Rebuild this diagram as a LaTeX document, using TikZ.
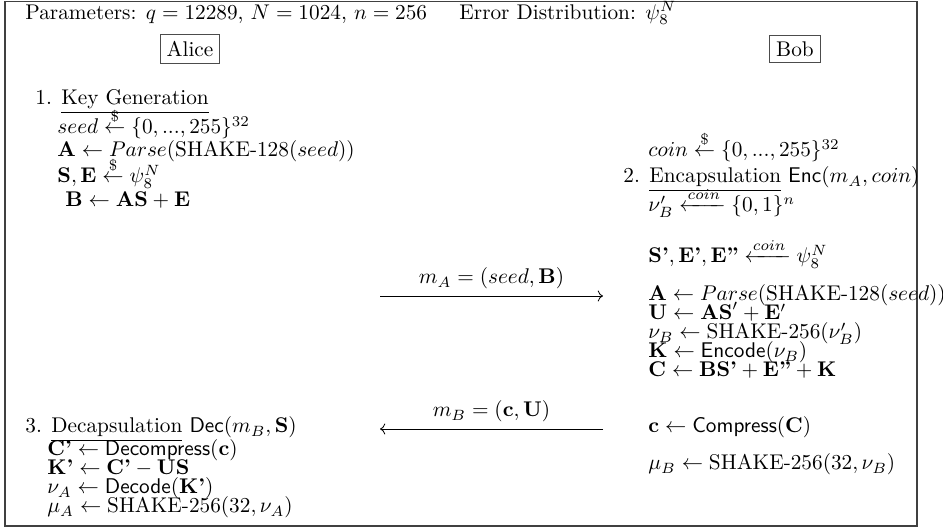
\documentclass[tikz,border=0pt]{standalone}
\usepackage{amsmath}
\usetikzlibrary{arrows.meta}
\begin{document}
\begin{tikzpicture}[x=0.47pt,y=-0.47pt,
  txt/.style={anchor=base west, inner sep=0pt},
  who/.style={draw=black!70, line width=0.5pt, inner sep=3pt},
  msg/.style={-{Computer Modern Rightarrow}, line width=0.4pt},
  lbl/.style={anchor=base, inner sep=0pt}]
\useasboundingbox (0,0) rectangle (943,529);
\draw[black!75, line width=0.6pt] (5,1.5) rectangle (917,526);
% header
\node[txt] (par) at (25,19.5) {Parameters: $q=12289$, $N=1024$, $n=256$};
\node[txt] (err) at (459,19.5) {Error Distribution: $\psi_8^N$};
\node[who] (alice) at (190,49) {Alice};
\node[who] (bob) at (795,49) {Bob};
% Alice key generation
\node[txt] (kg) at (35,105) {1. \underline{Key Generation}};
\node[txt] (a1) at (57,134) {$seed \stackrel{\$}{\leftarrow} \{0, ..., 255\}^{32}$};
\node[txt] (a2) at (57,157) {$\mathbf{A} \leftarrow Parse(\text{SHAKE-128}(seed))$};
\node[txt] (a3) at (57,183) {$\mathbf{S}, \mathbf{E} \stackrel{\$}{\leftarrow} \psi_8^N$};
\node[txt] (a4) at (65,207) {$\mathbf{B} \leftarrow \mathbf{AS} + \mathbf{E}$};
% Bob encapsulation
\node[txt] (b0) at (648,157) {$coin \stackrel{\$}{\leftarrow} \{0, ..., 255\}^{32}$};
\node[txt] (enc) at (623,183) {2. \underline{Encapsulation} $\mathsf{Enc}(m_A,coin)$};
\node[txt] (b1) at (648,212) {$\nu'_B \xleftarrow{coin} \{0,1\}^n$};
\node[txt] (b2) at (648,263) {$\textbf{S’}, \textbf{E’}, \textbf{E”} \xleftarrow{coin} \psi_8^N$};
\node[txt] (b3) at (648,301) {$\mathbf{A} \leftarrow Parse(\text{SHAKE-128}(seed))$};
\node[txt] (b4) at (648,320) {$\mathbf{U} \leftarrow \mathbf{AS}' + \mathbf{E}'$};
\node[txt] (b5) at (648,339) {$\nu_B \leftarrow \text{SHAKE-256}(\nu'_B)$};
\node[txt] (b6) at (648,358) {$\mathbf{K} \leftarrow \mathsf{Encode}(\nu_B)$};
\node[txt] (b7) at (648,377) {$\mathbf{C} \leftarrow \textbf{BS’} + \textbf{E”} + \mathbf{K}$};
\node[txt] (b8) at (648,433) {$\mathbf{c} \leftarrow \mathsf{Compress}(\mathbf{C})$};
\node[txt] (b9) at (648,470) {$\mu_B \leftarrow \text{SHAKE-256}(32, \nu_B)$};
% Alice decapsulation
\node[txt] (dec) at (25,433) {3. \underline{Decapsulation} $\mathsf{Dec}(m_B, \mathbf{S})$};
\node[txt] (d1) at (47,456) {$\textbf{C’} \leftarrow \mathsf{Decompress}(\mathbf{c})$};
\node[txt] (d2) at (47,475) {$\textbf{K’} \leftarrow \textbf{C’} - \mathbf{US}$};
\node[txt] (d3) at (47,494) {$\nu_A \leftarrow \mathsf{Decode}(\textbf{K’})$};
\node[txt] (d4) at (47,513) {$\mu_A \leftarrow \text{SHAKE-256}(32, \nu_A)$};
% messages
\coordinate (ma1) at (380,296);
\coordinate (ma2) at (603,296);
\draw[msg] (ma1) -- (ma2) node[lbl, midway, above=3pt] (mal) {$m_A = (seed, \mathbf{B})$};
\coordinate (mb1) at (603,429);
\coordinate (mb2) at (380,429);
\draw[msg] (mb1) -- (mb2) node[lbl, midway, above=3pt] (mbl) {$m_B = (\mathbf{c}, \mathbf{U})$};
\end{tikzpicture}
\end{document}
